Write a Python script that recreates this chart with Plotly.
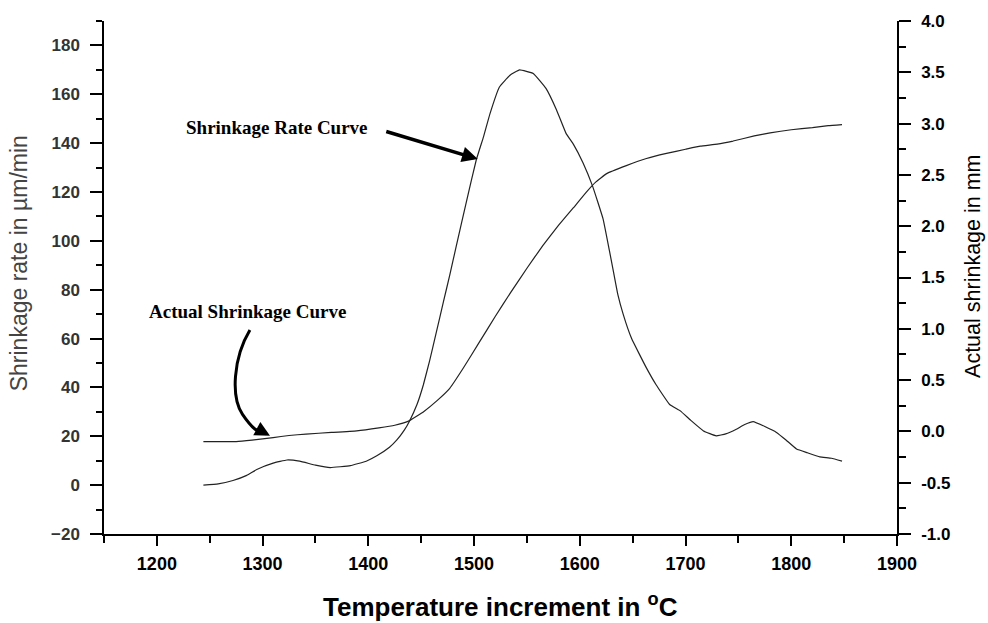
import plotly.graph_objects as go

# Shrinkage rate (µm/min) vs temperature (°C)
rate_temp = [1244, 1258, 1272, 1285, 1295, 1310, 1323, 1335, 1350, 1364, 1383, 1398,
             1408, 1420, 1427, 1434, 1439, 1446, 1452, 1458, 1464, 1471, 1477, 1483,
             1493, 1502, 1509, 1515, 1524, 1534, 1543, 1556, 1568, 1578, 1587, 1594,
             1603, 1612, 1622, 1628, 1632, 1636, 1641, 1649, 1663, 1672, 1685, 1695, 1705,
             1717, 1729, 1738, 1748, 1756, 1764, 1775, 1786, 1795, 1805, 1815, 1827,
             1838, 1848]
rate_val = [0.0, 0.5, 1.9, 4.0, 6.5, 9.0, 10.3, 9.8, 8.2, 7.2, 8.0, 9.8,
            12.0, 15.5, 18.5, 22.5, 26.3, 33.0, 41.0, 51.0, 62.0, 75.0, 86.0, 97.5,
            116.5, 133.0, 142.7, 152.0, 163.0, 167.8, 170.0, 168.5, 162.4, 153.6, 144.0, 139.5,
            132.0, 122.5, 109.0, 96.0, 87.0, 78.0, 70.0, 60.0, 48.0, 41.2, 33.0, 30.4, 26.5,
            22.2, 20.2, 21.0, 22.9, 24.8, 26.0, 24.0, 21.6, 18.5, 14.8, 13.3, 11.6,
            11.0, 9.8]

# Actual shrinkage (mm) vs temperature (°C)
shr_temp = [1244, 1260, 1275, 1290, 1310, 1325, 1341, 1365, 1389, 1410, 1425, 1438,
            1446, 1452, 1465, 1477, 1490, 1505, 1520, 1535, 1550, 1565, 1580, 1594,
            1606, 1615, 1625, 1644, 1663, 1682, 1700, 1714, 1730, 1745, 1765, 1780,
            1800, 1820, 1835, 1848]
shr_val = [-0.10, -0.10, -0.10, -0.085, -0.06, -0.04, -0.026, -0.01, 0.006, 0.035, 0.06, 0.10,
           0.15, 0.19, 0.30, 0.42, 0.62, 0.87, 1.12, 1.36, 1.59, 1.81, 2.01, 2.18,
           2.33, 2.43, 2.51, 2.59, 2.66, 2.71, 2.75, 2.78, 2.80, 2.83, 2.88, 2.91,
           2.94, 2.96, 2.98, 2.99]

x_ticks = [1200, 1300, 1400, 1500, 1600, 1700, 1800, 1900]
left_ticks = [-20, 0, 20, 40, 60, 80, 100, 120, 140, 160, 180]
right_ticks = [-1.0, -0.5, 0.0, 0.5, 1.0, 1.5, 2.0, 2.5, 3.0, 3.5, 4.0]

SANS = "Liberation Sans, Arial, sans-serif"
SERIF = "Liberation Serif, Times New Roman, serif"

fig = go.Figure()
fig.add_trace(go.Scatter(x=rate_temp, y=rate_val, mode="lines",
                         line=dict(color="#222", width=1.2, shape="spline", smoothing=0.3),
                         showlegend=False))
fig.add_trace(go.Scatter(x=shr_temp, y=shr_val, mode="lines", yaxis="y2",
                         line=dict(color="#222", width=1.2, shape="spline", smoothing=0.3),
                         showlegend=False))

fig.update_layout(
    width=988, height=623,
    margin=dict(l=104, r=91, t=17, b=89),
    paper_bgcolor="white", plot_bgcolor="white",
    xaxis=dict(
        range=[1150, 1900], tickvals=x_ticks, ticktext=[str(v) for v in x_ticks],
        showgrid=False, zeroline=False, showline=True, linecolor="black", linewidth=1.5,
        ticks="outside", ticklen=10, tickwidth=1.5, tickcolor="black",
        minor=dict(dtick=50, ticks="outside", ticklen=7, tickwidth=1.5, tickcolor="black"),
        tickfont=dict(family=SANS, size=18, color="black", weight="bold"),
        ticklabelstandoff=3,
    ),
    yaxis=dict(
        range=[-20, 190], tickvals=left_ticks,
        showgrid=False, zeroline=False, showline=True, linecolor="black", linewidth=1.5,
        ticks="outside", ticklen=12, tickwidth=1.5, tickcolor="black",
        minor=dict(dtick=10, ticks="outside", ticklen=6, tickwidth=1.5, tickcolor="black"),
        tickfont=dict(family=SANS, size=17, color="#333", weight="bold"),
        ticklabelstandoff=7,
    ),
    yaxis2=dict(
        range=[-1, 4], tickvals=right_ticks,
        ticktext=[f"{v:.1f}" for v in right_ticks],
        overlaying="y", side="right", anchor="x",
        showgrid=False, zeroline=False, showline=True, linecolor="black", linewidth=1.5,
        ticks="outside", ticklen=12, tickwidth=1.5, tickcolor="black",
        minor=dict(dtick=0.25, ticks="outside", ticklen=7, tickwidth=1.5, tickcolor="black"),
        tickfont=dict(family=SANS, size=17, color="black", weight="bold"),
        ticklabelstandoff=7,
    ),
)

# Axis titles
fig.add_annotation(x=0.5, y=-0.139, xref="paper", yref="paper", yanchor="middle",
                   text="Temperature increment in <sup>o</sup>C", showarrow=False,
                   font=dict(family=SANS, size=26, color="black", weight="bold"))
fig.add_annotation(x=-0.107, y=0.528, xref="paper", yref="paper",
                   xanchor="center", yanchor="middle", textangle=-90,
                   text="Shrinkage rate in µm/min", showarrow=False,
                   font=dict(family=SANS, size=23, color="#444"))
fig.add_annotation(x=1.0955, y=0.522, xref="paper", yref="paper",
                   xanchor="center", yanchor="middle", textangle=-90,
                   text="Actual shrinkage in mm", showarrow=False,
                   font=dict(family=SANS, size=21.5, color="black"))

# Callout labels
fig.add_annotation(x=1314, y=146.5, xref="x", yref="y", text="Shrinkage Rate Curve",
                   showarrow=False, font=dict(family=SERIF, size=19, color="black", weight="bold"))
fig.add_annotation(x=1286, y=71, xref="x", yref="y", text="Actual Shrinkage Curve",
                   showarrow=False, font=dict(family=SERIF, size=19, color="black", weight="bold"))

# Straight arrow to the rate curve
fig.add_annotation(x=1503.5, y=133.5, xref="x", yref="y", ax=-93, ay=-28,
                   text="", showarrow=True, arrowhead=2, arrowsize=0.9,
                   arrowwidth=3.5, arrowcolor="black")

# Curved arrow to the shrinkage curve
fig.add_shape(type="path", xref="x", yref="y",
              path="M 1288,63.5 C 1272,52 1270,36 1281,29 S 1296,22 1302,21.3",
              line=dict(color="black", width=3))
fig.add_annotation(x=1307, y=20.2, xref="x", yref="y", ax=-13, ay=-7,
                   text="", showarrow=True, arrowhead=2, arrowsize=1.0,
                   arrowwidth=3, arrowcolor="black")

fig.write_html("out.html")
